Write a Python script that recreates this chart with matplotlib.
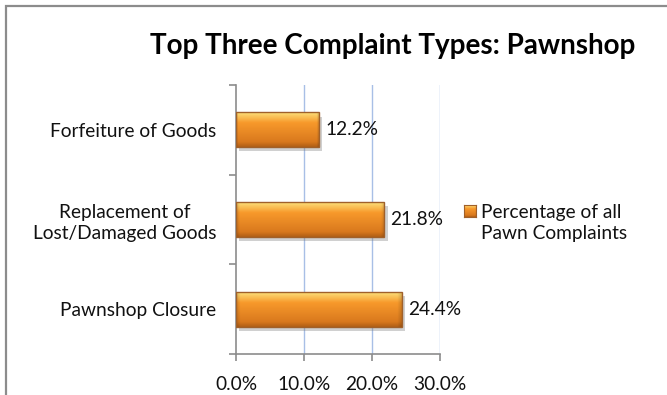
import numpy as np
import matplotlib
matplotlib.use("Agg")
import matplotlib.pyplot as plt
import matplotlib.patheffects as pe
from matplotlib.patches import Rectangle

categories = ["Pawnshop Closure", "Replacement of\nLost/Damaged Goods", "Forfeiture of Goods"]
values = [24.4, 21.8, 12.2]
value_labels = ["24.4%", "21.8%", "12.2%"]
x_ticks = [0, 10, 20, 30]
x_tick_labels = ["0.0%", "10.0%", "20.0%", "30.0%"]
series_name = "Percentage of all\nPawn Complaints"
title = "Top Three Complaint Types: Pawnshop"

plt.rcParams["font.family"] = ["Lato", "DejaVu Sans"]

W, H = 667, 395
FS = 13.8
TXT = "#111111"
fig = plt.figure(figsize=(W / 100, H / 100), dpi=100)
fig.patch.set_facecolor("white")

# outer chart frame (right and bottom run off the canvas)
fig.add_artist(Rectangle((5.5 / W, -0.1), 1.2, 1 - 5.5 / H + 0.1, transform=fig.transFigure,
                         fill=False, edgecolor="#8c8c8c", linewidth=1.6))

ax = fig.add_axes([236 / W, 1 - 354 / H, (440 - 236) / W, (354 - 85) / H])

# vertical grid
for t in x_ticks[1:]:
    ax.axvline(t, color="#a8bfe6", linewidth=1.0, zorder=0)

bar_h = 0.39
ypos = np.arange(len(categories))
bars = ax.barh(ypos, values, height=bar_h, color="#f39a2a", edgecolor="none", zorder=2,
               path_effects=[pe.SimplePatchShadow(offset=(2.5, -3), shadow_rgbFace="#7a7a7a", alpha=0.35),
                             pe.Normal()])

# shaded fill for each bar
ny, nx = 64, 200
tv = np.linspace(0, 1, ny)[:, None, None]          # 0 = top, 1 = bottom
top = np.array([0.99, 0.88, 0.48])
mid = np.array([0.97, 0.60, 0.17])
bot = np.array([0.82, 0.44, 0.10])
col = np.where(tv < 0.3,
               top + (mid - top) * (tv / 0.3),
               mid + (bot - mid) * ((tv - 0.3) / 0.7))
col = np.broadcast_to(col, (ny, nx, 3)).copy()
xs = np.linspace(0, 1, nx)[None, :]
edge = np.clip(1 - np.minimum(xs, 1 - xs) * 40, 0, 1)
col *= (1 - 0.15 * edge)[..., None]
bottom_band = np.clip((tv[..., 0] - 0.85) / 0.15, 0, 1)
col *= (1 - 0.15 * bottom_band)[..., None]
col = np.clip(col, 0, 1)

for b in bars:
    x0, y0 = b.get_x(), b.get_y()
    w, h = b.get_width(), b.get_height()
    im = ax.imshow(col, extent=(x0, x0 + w, y0, y0 + h), origin="upper",
                   aspect="auto", zorder=3, interpolation="bilinear")
    im.set_clip_path(b)
    ax.add_patch(Rectangle((x0, y0), w, h, fill=False, edgecolor="#a0602a",
                           linewidth=1.0, zorder=4))

ax.set_xlim(0, 30)
ax.set_ylim(-0.5, len(categories) - 0.5)

# value labels
for y, v, lab in zip(ypos, values, value_labels):
    ax.annotate(lab, (v, y), xytext=(4.5, 0), textcoords="offset points",
                va="center", ha="left", fontsize=FS, color=TXT, zorder=5)

# axes styling
for s in ["top", "right"]:
    ax.spines[s].set_visible(False)
for s in ["left", "bottom"]:
    ax.spines[s].set_color("#8c8c8c")
    ax.spines[s].set_linewidth(1.2)

ax.set_xticks(x_ticks)
ax.set_xticklabels(x_tick_labels, fontsize=FS, color=TXT)
ax.tick_params(axis="x", direction="out", length=5, width=1.2, color="#8c8c8c", pad=11)

ax.set_yticks(ypos)
ax.set_yticklabels(categories, fontsize=FS, color=TXT, ha="right", multialignment="center",
                   linespacing=1.3)
ax.tick_params(axis="y", which="major", length=0, pad=14)
ax.set_yticks(np.arange(-0.5, len(categories), 1.0), minor=True)
ax.tick_params(axis="y", which="minor", direction="out", length=5, width=1.2, color="#8c8c8c")

# legend
lx0, ly0 = 464, 205
leg_img = ax.figure.add_axes([lx0 / W, 1 - (ly0 + 12) / H, 12 / W, 12 / H])
leg_img.imshow(col, aspect="auto", interpolation="bilinear")
leg_img.set_xticks([])
leg_img.set_yticks([])
for s in leg_img.spines.values():
    s.set_color("#a0602a")
    s.set_linewidth(0.8)
fig.text(481 / W, 1 - 223 / H, series_name, fontsize=FS, color=TXT,
         ha="left", va="center", linespacing=1.3)

fig.text(393 / W, 1 - 46 / H, title, fontsize=20, fontweight="bold", color="#000000",
         ha="center", va="center")

fig.savefig("out.png", dpi=100)
